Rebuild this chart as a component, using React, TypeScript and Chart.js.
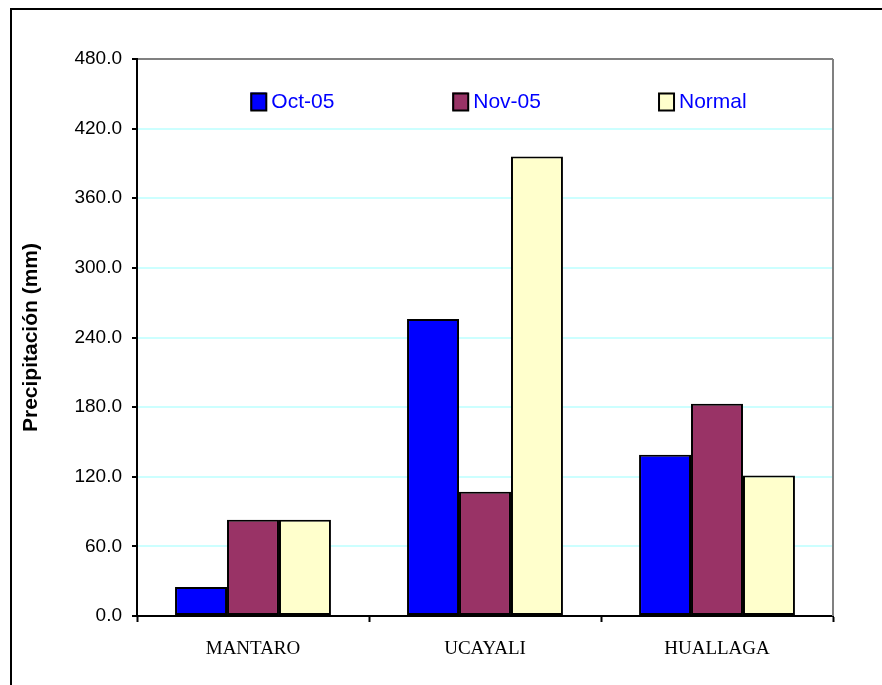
import { useEffect, useRef } from "react";
import { Chart, registerables } from "chart.js";

Chart.register(...registerables);

const categories = ["MANTARO", "UCAYALI", "HUALLAGA"];
const seriesNames = ["Oct-05", "Nov-05", "Normal"];
const oct05 = [25, 256, 139];
const nov05 = [83, 107, 183];
const normal = [83, 396, 121];
const seriesColors = ["#0000ff", "#993366", "#ffffcc"];
const yMin = 0;
const yMax = 480;
const yStep = 60;
const yTitle = "Precipitación (mm)";

const legendFractions = [0.1628, 0.4529, 0.7486];

const plotFramePlugin = {
  id: "plotFrame",
  afterDatasetsDraw(chart: any) {
    const { ctx, chartArea } = chart;
    ctx.save();
    ctx.strokeStyle = "#808080";
    ctx.lineWidth = 2;
    ctx.beginPath();
    ctx.moveTo(chartArea.right, chartArea.top);
    ctx.lineTo(chartArea.right, chartArea.bottom);
    ctx.stroke();
    ctx.restore();
  },
};

const insideLegendPlugin = {
  id: "insideLegend",
  afterDraw(chart: any) {
    const { ctx, chartArea } = chart;
    const w = chartArea.right - chartArea.left;
    const cy = chartArea.top + 42.5;
    ctx.save();
    chart.data.datasets.forEach((ds: any, i: number) => {
      const x = chartArea.left + w * legendFractions[i];
      ctx.fillStyle = ds.backgroundColor;
      ctx.fillRect(x, cy - 9, 16, 18);
      ctx.strokeStyle = "#000";
      ctx.lineWidth = 2;
      ctx.strokeRect(x + 1, cy - 8, 15, 17);
      ctx.fillStyle = "#0000ff";
      ctx.font = "21px 'Liberation Sans', Arial, sans-serif";
      ctx.textBaseline = "middle";
      ctx.textAlign = "left";
      ctx.fillText(ds.label, x + 21, cy + 1);
    });
    ctx.restore();
  },
};

export default function App() {
  const ref = useRef<HTMLCanvasElement | null>(null);

  useEffect(() => {
    if (!ref.current) return;
    const chart = new Chart(ref.current, {
      type: "bar",
      data: {
        labels: categories,
        datasets: [oct05, nov05, normal].map((d, i) => ({
          label: seriesNames[i],
          data: d,
          backgroundColor: seriesColors[i],
          borderColor: "#000000",
          borderWidth: 2,
          borderSkipped: false,
          barPercentage: 1,
          categoryPercentage: 0.672,
        })),
      },
      options: {
        responsive: false,
        animation: false,
        devicePixelRatio: 1,
        layout: { padding: { top: 59, right: 49, left: 0, bottom: 0 } },
        plugins: {
          legend: { display: false },
          tooltip: { enabled: false },
          title: { display: false },
        },
        scales: {
          x: {
            offset: true,
            grid: {
              display: true,
              drawOnChartArea: false,
              drawTicks: true,
              tickLength: 6,
              tickColor: "#000",
              tickWidth: 2,
              offset: true,
            },
            border: { display: true, color: "#000", width: 2 },
            ticks: {
              color: "#000",
              padding: 16,
              font: { family: "'Liberation Serif', 'Times New Roman', serif", size: 19 },
            },
            afterFit: (s: any) => {
              s.height = 69;
            },
          },
          y: {
            min: yMin,
            max: yMax,
            ticks: {
              stepSize: yStep,
              color: "#000",
              padding: 10,
              font: { family: "'Liberation Sans', Arial, sans-serif", size: 19 },
              callback: (v: any) => Number(v).toFixed(1),
            },
            grid: {
              color: (c: any) => (c.tick && c.tick.value === yMax ? "#808080" : "#ccffff"),
              lineWidth: 2,
              tickLength: 5,
              tickColor: "#000",
              tickWidth: 2,
            },
            border: { display: true, color: "#000", width: 2 },
            title: {
              display: true,
              text: yTitle,
              color: "#000",
              padding: { top: 19, bottom: 0 },
              font: { family: "'Liberation Sans', Arial, sans-serif", size: 21, weight: "bold" },
            },
            afterFit: (s: any) => {
              s.width = 137;
            },
          },
        },
      },
      plugins: [plotFramePlugin, insideLegendPlugin],
    });
    return () => chart.destroy();
  }, []);

  return (
    <div style={{ position: "fixed", left: 0, top: 0, width: 882, height: 685, overflow: "hidden", background: "#fff" }}>
      <canvas ref={ref} width={882} height={685} style={{ position: "absolute", left: 0, top: 0, width: 882, height: 685 }} />
      <div
        style={{
          position: "absolute",
          left: 10,
          top: 8,
          width: 900,
          height: 700,
          border: "2px solid #000",
          pointerEvents: "none",
        }}
      />
    </div>
  );
}
